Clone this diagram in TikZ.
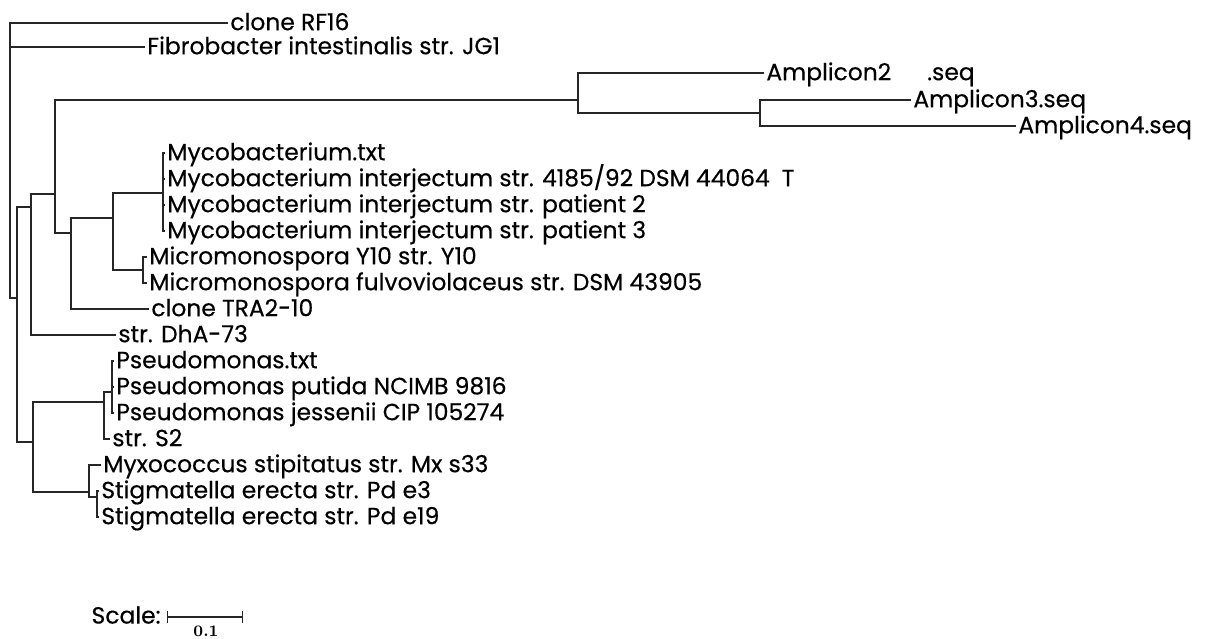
\documentclass[tikz,border=0pt]{standalone}
\usepackage{fontspec}
\newfontfamily\treefont[FakeBold=0.4]{Poppins}
\usetikzlibrary{positioning}

\begin{document}
\begin{tikzpicture}[
  x=0.5pt, y=-0.5pt,
  every node/.style={font=\treefont\fontsize{11.7}{12}\selectfont},
  leaf/.style={anchor=west, inner sep=1pt, text height=0.72em, text depth=0pt},
  br/.style={line width=0.6pt, black!85}
]
\useasboundingbox (0,0) rectangle (1215,638);
% Leaves
\node[leaf] (rf16) at (228, 23) {clone RF16};
\node[leaf] (fibro) at (145, 47) {Fibrobacter intestinalis str. JG1};
\node[leaf] (amp2) at (764, 73) {Amplicon2\hspace{18pt}.seq};
\node[leaf] (amp3) at (911, 100) {Amplicon3.seq};
\node[leaf] (amp4) at (1016, 126) {Amplicon4.seq};
\node[leaf] (mycotxt) at (165, 153) {Mycobacterium.txt};
\node[leaf] (myint) at (165, 179) {Mycobacterium interjectum str. 4185/92 DSM 44064\hspace{6pt}T};
\node[leaf] (mypat2) at (165, 205) {Mycobacterium interjectum str. patient 2};
\node[leaf] (mypat3) at (165, 231) {Mycobacterium interjectum str. patient 3};
\node[leaf] (micy10) at (147, 257) {Micromonospora Y10 str. Y10};
\node[leaf] (micful) at (147, 283) {Micromonospora fulvoviolaceus str. DSM 43905};
\node[leaf] (tra) at (149, 309) {clone TRA2-10};
\node[leaf] (dha) at (116, 335) {str. DhA-73};
\node[leaf] (pstxt) at (114, 361) {Pseudomonas.txt};
\node[leaf] (psput) at (114, 387) {Pseudomonas putida NCIMB 9816};
\node[leaf] (psjes) at (114, 413) {Pseudomonas jessenii CIP 105274};
\node[leaf] (s2) at (110, 439) {str. S2};
\node[leaf] (myxo) at (101, 465) {Myxococcus stipitatus str. Mx s33};
\node[leaf] (stig3) at (99, 491) {Stigmatella erecta str. Pd e3};
\node[leaf] (stig19) at (99, 517) {Stigmatella erecta str. Pd e19};
% Internal nodes
\coordinate (root) at (10, 160);
\coordinate (nA) at (17, 298);
\coordinate (nB) at (31, 207);
\coordinate (nH) at (55, 194);
\coordinate (nI) at (578, 100);
\coordinate (nK) at (760, 113);
\coordinate (nJ) at (71, 233);
\coordinate (nL) at (113, 218);
\coordinate (nM) at (163, 193);
\coordinate (nN) at (143, 270);
\coordinate (nC) at (33, 442);
\coordinate (nF) at (104, 402);
\coordinate (nG) at (112, 392);
\coordinate (nD) at (89, 492);
\coordinate (nE) at (97, 497);
% Branches
\draw[br] (rf16.west) -| (root) |- (nA);
\draw[br] (root |- fibro.west) -- (fibro.west);
\draw[br] (nB) -| (nA) |- (nC);
\draw[br] (nH) -| (nB) |- (dha.west);
\draw[br] (nI) -| (nH) |- (nJ);
\draw[br] (amp2.west) -| (nI) |- (nK);
\draw[br] (amp3.west) -| (nK) |- (amp4.west);
\draw[br] (nL) -| (nJ) |- (tra.west);
\draw[br] (nM) -| (nL) |- (nN);
\draw[br] (mycotxt.west) -| (nM) |- (mypat3.west);
\draw[br] (nM |- myint.west) -- (myint.west);
\draw[br] (nM |- mypat2.west) -- (mypat2.west);
\draw[br] (micy10.west) -| (nN) |- (micful.west);
\draw[br] (nF) -| (nC) |- (nD);
\draw[br] (nG) -| (nF) |- (s2.west);
\draw[br] (pstxt.west) -| (nG) |- (psjes.west);
\draw[br] (nG |- psput.west) -- (psput.west);
\draw[br] (myxo.west) -| (nD) |- (nE);
\draw[br] (stig3.west) -| (nE) |- (stig19.west);
% Scale bar
\node[anchor=east, inner sep=1pt] (scalelbl) at (163, 615) {Scale:};
\coordinate (sbL) at (167, 617);
\coordinate (sbR) at (243, 617);
\draw[br, |-|] (sbL) -- (sbR);
\node[font=\rmfamily\bfseries\fontsize{8}{9}\selectfont, below, inner sep=1pt] (sbval) at (206, 624) {0.1};
\end{tikzpicture}
\end{document}
